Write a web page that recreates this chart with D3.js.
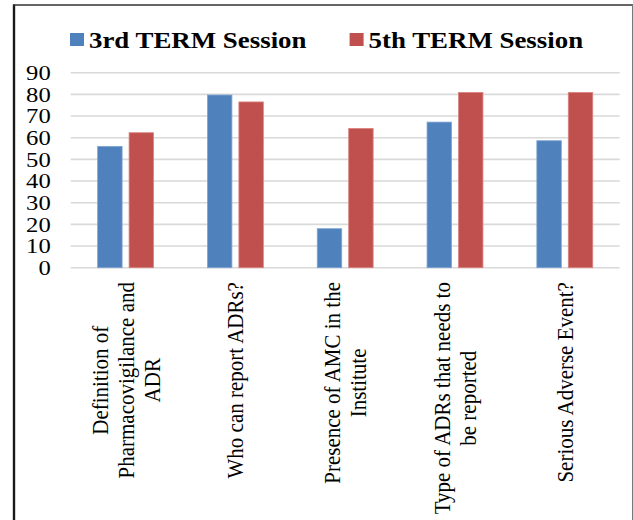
<!DOCTYPE html>
<html>
<head>
<meta charset="utf-8">
<script src="https://cdn.jsdelivr.net/npm/d3@7"></script>
<style>
  html, body { margin: 0; padding: 0; background: #fff; }
  svg { display: block; }
</style>
</head>
<body>
<svg id="chart" width="633" height="520"></svg>
<script>
// Survey questions (one group of bars each), split into label lines
const categories = [
  "Definition of Pharmacovigilance and ADR",
  "Who can report ADRs?",
  "Presence of AMC in the Institute",
  "Type of ADRs that needs to be reported",
  "Serious Adverse Event?"
];
const categoryLines = [
  ["Definition of", "Pharmacovigilance and", "ADR"],
  ["Who can report ADRs?"],
  ["Presence of AMC in the", "Institute"],
  ["Type of ADRs that needs to", "be reported"],
  ["Serious Adverse Event?"]
];
const seriesNames = ["3rd TERM Session", "5th TERM Session"];
const term3Values = [56, 79.7, 18, 67.2, 58.6];
const term5Values = [62.3, 76.5, 64.3, 80.9, 80.9];
const yTicks = [0, 10, 20, 30, 40, 50, 60, 70, 80, 90];
const seriesColors = ["#4F81BD", "#C0504D"];
const seriesStrokes = ["#7FA3D3", "#D98482"];

const seriesValues = [term3Values, term5Values];
const FONT = '"Liberation Serif", "Times New Roman", serif';
const svg = d3.select("#chart");
const STRETCH = 1.12; // text is drawn slightly widened

// Frame around the figure
svg.append("line").attr("x1", 14).attr("x2", 14).attr("y1", 4.5).attr("y2", 520)
  .attr("stroke", "#1a1a1a").attr("stroke-width", 2.4);
svg.append("line").attr("x1", 13).attr("x2", 633).attr("y1", 5).attr("y2", 5)
  .attr("stroke", "#333").attr("stroke-width", 1.6);
svg.append("line").attr("x1", 632.5).attr("x2", 632.5).attr("y1", 4.5).attr("y2", 520)
  .attr("stroke", "#777").attr("stroke-width", 1);

// Scales
const x = d3.scaleBand().domain(categories).range([70.7, 619.7]).paddingInner(0).paddingOuter(0);
const bw = x.bandwidth();
const xs = d3.scaleBand().domain(seriesNames)
  .range([bw * 0.2455, bw * 0.7545]).paddingInner(0.222).paddingOuter(0);
const y = d3.scaleLinear().domain([0, 90]).range([267.7, 72.7]);

// Gridlines
svg.append("g").selectAll("line").data(yTicks).join("line")
  .attr("x1", 70.7).attr("x2", 619.7)
  .attr("y1", d => y(d)).attr("y2", d => y(d))
  .attr("stroke", "#D9D9D9").attr("stroke-width", 1.6);

// Y tick labels
svg.append("g").selectAll("text").data(yTicks).join("text")
  .attr("transform", d => `translate(50.7,${y(d) + 7.3}) scale(${STRETCH},1)`)
  .attr("text-anchor", "end")
  .attr("font-size", 22)
  .style("font-family", FONT)
  .text(d => d);

// Bars
const groups = svg.append("g").selectAll("g").data(categories).join("g")
  .attr("transform", d => `translate(${x(d)},0)`);
groups.selectAll("rect")
  .data((c, i) => seriesNames.map((s, k) => ({ s, k, v: seriesValues[k][i] })))
  .join("rect")
  .attr("x", d => xs(d.s))
  .attr("width", xs.bandwidth())
  .attr("y", d => y(d.v))
  .attr("height", d => y(0) - y(d.v))
  .attr("fill", d => seriesColors[d.k])
  .attr("stroke", d => seriesStrokes[d.k])
  .attr("stroke-width", 0.8);

// Category labels, rotated and centred line by line
const labelTop = 282;
const lineGap = 26;
categories.forEach((c, i) => {
  const lines = categoryLines[i];
  const cx = x(c) + bw / 2;
  const g = svg.append("g");
  const texts = lines.map(() => g.append("text")
    .attr("font-size", 21).attr("text-anchor", "middle").style("font-family", FONT));
  texts.forEach((t, j) => t.text(lines[j]));
  const maxLen = d3.max(texts, t => t.node().getComputedTextLength());
  const cy = labelTop + maxLen / 2;
  texts.forEach((t, j) => {
    const bx = cx + (j - (lines.length - 1) / 2) * lineGap + 8;
    t.attr("transform", `translate(${bx},${cy}) scale(${STRETCH},1) rotate(-90)`);
  });
});

// Legend
const legendX = [70, 349.6];
seriesNames.forEach((s, k) => {
  svg.append("rect")
    .attr("x", legendX[k]).attr("y", 33)
    .attr("width", 14).attr("height", 13)
    .attr("fill", seriesColors[k]);
  svg.append("text")
    .attr("transform", `translate(${legendX[k] + 19},48.3) scale(${STRETCH},1)`)
    .attr("font-size", 24)
    .attr("font-weight", "bold")
    .style("font-family", FONT)
    .text(s);
});
</script>
</body>
</html>
